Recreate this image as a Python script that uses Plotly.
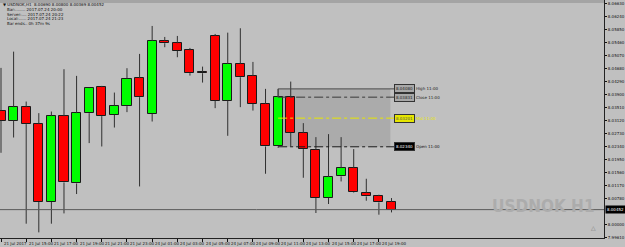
import plotly.graph_objects as go

# ---------------- data ----------------
idx = list(range(32))
opens = [8.03429, 8.03129, 8.03531, 8.03021, 8.00681, 8.03261, 8.01239, 8.03351, 8.04131, 8.03300,
         8.03561, 8.04401, 8.03330, 8.05520, 8.05451, 8.05241, 8.04581, 8.05670, 8.03729, 8.04830,
         8.04470, 8.03630, 8.02349, 8.03831, 8.02751, 8.02250, 8.00801, 8.01449, 8.01701, 8.00960,
         8.00861, 8.00690]
highs = [8.04710, 8.05199, 8.03699, 8.03351, 8.03399, 8.04671, 8.04470, 8.04119, 8.04170, 8.03969,
         8.04701, 8.05130, 8.05970, 8.05640, 8.05670, 8.05310, 8.04749, 8.05730, 8.05769, 8.05901,
         8.04890, 8.04080, 8.04080, 8.04299, 8.03051, 8.02631, 8.02721, 8.02631, 8.02271, 8.01380,
         8.00900, 8.00800]
lows = [8.02160, 8.02619, 8.00030, 7.99769, 8.00030, 8.00339, 8.00921, 8.02451, 8.02349, 8.02919,
        8.03381, 8.01149, 8.03099, 8.05331, 8.05031, 8.04479, 8.04269, 8.03501, 8.02670, 8.03531,
        8.03429, 8.01530, 8.02310, 8.02349, 8.01410, 8.00351, 8.00621, 8.01299, 8.00951, 8.00720,
        8.00300, 8.00369]
closes = [8.03129, 8.03531, 8.03021, 8.00681, 8.03261, 8.01269, 8.03351, 8.04101, 8.03261, 8.03579,
          8.04389, 8.03831, 8.05520, 8.05451, 8.05229, 8.04551, 8.04551, 8.03729, 8.04830, 8.04431,
          8.03630, 8.02349, 8.03831, 8.02769, 8.02271, 8.00801, 8.01431, 8.01701, 8.00969, 8.00849,
          8.00669, 8.00450]

xtick_idx = [0, 2, 4, 6, 8, 10, 12, 14, 16, 18, 20, 22, 24, 26, 28, 30]
xtick_labels = ["21 Jul 2017", "21 Jul 15:00", "21 Jul 17:00", "21 Jul 19:00", "21 Jul 21:00",
                "21 Jul 23:00", "24 Jul 01:00", "24 Jul 03:00", "24 Jul 05:00", "24 Jul 07:00",
                "24 Jul 09:00", "24 Jul 11:00", "24 Jul 13:00", "24 Jul 15:00", "24 Jul 17:00",
                "24 Jul 19:00"]
ytick_vals = [8.06630, 8.06240, 8.05850, 8.05460, 8.05070, 8.04680, 8.04290, 8.03900, 8.03510,
              8.03120, 8.02730, 8.02340, 8.01950, 8.01560, 8.01170, 8.00780, 8.00000, 7.99610]
ytick_text = ["%.5f" % v for v in ytick_vals]

current_price = 8.00452
box_start, box_end, label_x, label_text_x = 22, 30.91, 31.23, 32.8
box_high, box_close, box_mid, box_open = 8.04080, 8.03831, 8.03201, 8.02340

header = ["\u25bc USDNOK,H1  8.00690 8.00800 8.00369 8.00452",
          "Bar:........ 2017.07.24 20:00",
          "Server:.... 2017.07.24 20:22",
          "Local:...... 2017.07.24 21:23",
          "Bar ends.. 0h 37m 9s"]

BG = "#c0c0c0"
H = 247
PLOT_H = 238

# ---------------- figure ----------------
fig = go.Figure()

wx, wy = [], []
for i, o, h, l, c in zip(idx, opens, highs, lows, closes):
    top, bot = max(o, c), min(o, c)
    wx += [i, i, None, i, i, None]
    wy += [h, top, None, bot, l, None]
fig.add_trace(go.Scatter(x=wx, y=wy, mode="lines", line=dict(color="#303030", width=1),
                         hoverinfo="skip", showlegend=False))

colors = []
for o, c in zip(opens, closes):
    if abs(o - c) < 0.0002:
        colors.append("#8b0000")
    elif c > o:
        colors.append("#00ff00")
    else:
        colors.append("#ff0000")
fig.add_trace(go.Bar(x=idx, base=[min(o, c) for o, c in zip(opens, closes)],
                     y=[max(abs(c - o), 0.00005) for o, c in zip(opens, closes)],
                     width=0.72, marker=dict(color=colors, line=dict(color="#1a1a1a", width=1)),
                     showlegend=False, hoverinfo="skip"))

shapes = []
shapes.append(dict(type="rect", xref="x", yref="y", x0=box_start, x1=box_end, y0=box_open, y1=box_high,
                   fillcolor="rgba(120,120,120,0.28)", line=dict(width=0), layer="below"))
shapes.append(dict(type="line", xref="x", yref="y", x0=box_start, x1=label_x, y0=box_high, y1=box_high,
                   line=dict(color="#4a4a4a", width=1)))
shapes.append(dict(type="line", xref="x", yref="y", x0=box_start, x1=box_start, y0=box_close, y1=box_high,
                   line=dict(color="#4a4a4a", width=1)))
shapes.append(dict(type="line", xref="x", yref="y", x0=box_start, x1=label_x, y0=box_close, y1=box_close,
                   line=dict(color="#3a3a3a", width=1, dash="dashdot")))
shapes.append(dict(type="line", xref="x", yref="y", x0=box_start, x1=label_x, y0=box_mid, y1=box_mid,
                   line=dict(color="#e6e600", width=1, dash="dashdot")))
shapes.append(dict(type="line", xref="x", yref="y", x0=box_start, x1=label_x, y0=box_open, y1=box_open,
                   line=dict(color="#1a1a1a", width=1, dash="dashdot")))
shapes.append(dict(type="line", xref="paper", yref="y", x0=0, x1=1, y0=current_price, y1=current_price,
                   line=dict(color="#5a5a5a", width=1)))
shapes.append(dict(type="rect", xref="paper", yref="paper", x0=0, x1=1, y0=1 - 3 / PLOT_H, y1=1.01,
                   fillcolor="#a4a4a4", line=dict(width=0)))

ann = []
FONT = "DejaVu Sans"
FS = 4
box_labels = [(box_high, "#a8a8a8", "#222", "High 11:00", "#222"),
              (box_close, "#a8a8a8", "#222", "Close 11:00", "#222"),
              (box_mid, "#e6e600", "#555", "Mid 11:00", "#e6e600"),
              (box_open, "#000000", "#fff", "Open 11:00", "#111")]
for yv, bg, fc, txt, tc in box_labels:
    ann.append(dict(x=label_x, y=yv, xref="x", yref="y", xanchor="left", yanchor="middle",
                    text="%.5f" % yv, showarrow=False, bgcolor=bg, bordercolor="#333",
                    borderwidth=1, borderpad=1, font=dict(size=FS, color=fc, family=FONT)))
    ann.append(dict(x=label_text_x, y=yv, xref="x", yref="y", xanchor="left", yanchor="middle",
                    text=txt, showarrow=False, font=dict(size=FS, color=tc, family=FONT)))

for xi, t in zip(xtick_idx, xtick_labels):
    ann.append(dict(x=xi, y=0, xref="x", yref="paper", xanchor="left", yanchor="top",
                    xshift=1, yshift=-1, text=t, showarrow=False,
                    font=dict(size=FS, color="#111", family=FONT)))

for k, line in enumerate(header):
    ann.append(dict(x=0.0, y=1 - (4.7 + k * 4.7) / PLOT_H, xref="paper", yref="paper", xanchor="left",
                    yanchor="middle", xshift=1 if k == 0 else 5, text=line, showarrow=False,
                    font=dict(size=FS, color="#111", family=FONT)))

ann.append(dict(x=1.0, y=current_price, xref="paper", yref="y", xanchor="left", yanchor="middle",
                xshift=1, text="%.5f" % current_price, showarrow=False, bgcolor="#000",
                borderpad=1, font=dict(size=FS, color="#fff", family=FONT)))

ann.append(dict(x=0.982, y=0.085, xref="paper", yref="paper", xanchor="right", yanchor="bottom",
                xshift=4, text="<b>USDNOK H1</b>", showarrow=False,
                font=dict(size=17, color="#acacac",
                          family="DejaVu Sans Condensed, Roboto Condensed, Liberation Sans")))
ann.append(dict(x=0.99, y=0.02, xref="paper", yref="paper", xanchor="right", yanchor="bottom",
                text="\u25b3", showarrow=False, font=dict(size=6, color="#777", family=FONT)))

fig.update_layout(
    width=625, height=H, margin=dict(l=0, r=17, t=0, b=H - PLOT_H),
    paper_bgcolor=BG, plot_bgcolor=BG, showlegend=False, bargap=0,
    shapes=shapes, annotations=ann,
    xaxis=dict(range=[-0.08, 47.87], showgrid=False, zeroline=False, tickvals=xtick_idx,
               showticklabels=False, ticks="outside", ticklen=3, tickcolor="#111",
               showline=True, linecolor="#222", linewidth=1, fixedrange=True),
    yaxis=dict(range=[7.99600, 8.06750], side="right", showgrid=False, zeroline=False,
               tickvals=ytick_vals, ticktext=ytick_text, ticks="outside", ticklen=2,
               tickcolor="#111", tickfont=dict(size=FS, color="#111", family=FONT),
               showline=True, linecolor="#222", linewidth=1, fixedrange=True),
)

fig.write_html("out.html")
